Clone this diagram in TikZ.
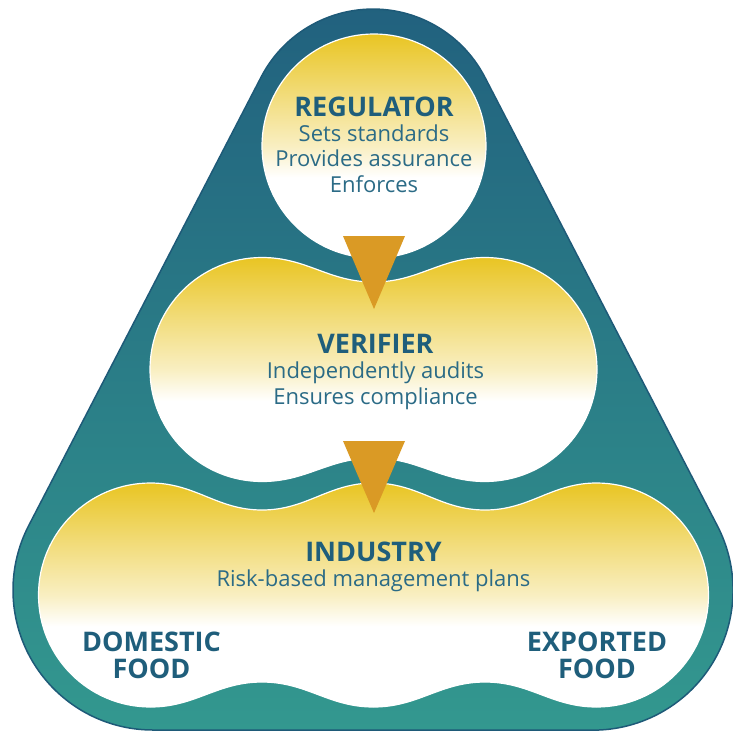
\documentclass[tikz,border=0pt]{standalone}
\usepackage{fontspec}
\setmainfont{Open Sans}

\definecolor{shellTop}{HTML}{21607E}
\definecolor{shellBottom}{HTML}{33988F}
\definecolor{shellEdge}{HTML}{1E5A78}
\definecolor{goldY}{HTML}{E9C523}
\definecolor{pointerGold}{HTML}{DA9A25}
\definecolor{titleBlue}{HTML}{1F5E7B}
\definecolor{bodyBlue}{HTML}{2B6B86}

% yellow at the top fading to white over the lower part
\pgfdeclareverticalshading{blobfill}{100bp}{%
  color(0bp)=(white); color(43bp)=(white); color(50bp)=(goldY!28!white);
  color(62bp)=(goldY!62!white); color(75bp)=(goldY); color(100bp)=(goldY)}

\tikzset{
  shell/.style={top color=shellTop, bottom color=shellBottom, draw=shellEdge, line width=1.5pt},
  blob/.style={shading=blobfill, draw=white, line width=1.2pt},
  pointer/.style={fill=pointerGold, draw=none},
  heading/.style={anchor=base, inner sep=0pt, text=titleBlue,
    font=\fontsize{27}{30}\selectfont\bfseries},
  bodyline/.style={anchor=base, inner sep=0pt, text=bodyBlue,
    font=\fontsize{22}{26}\selectfont},
}

\begin{document}
\begin{tikzpicture}[x=1pt,y=-1pt]
\useasboundingbox (0,0) rectangle (733,731);

% rounded triangular shell
\path[shell] (261.2,76.9) arc[start angle=207.5,end angle=332.5,radius=126]
  -- (717.2,525.5) arc[start angle=-27.5,end angle=90,radius=140]
  -- (153,730) arc[start angle=90,end angle=207.5,radius=140] -- cycle;

% regulator disc
\path[blob] (374,146) circle[radius=112];

% verifier: two lobes joined by a waist
\path[blob] (150,369.5) arc[start angle=180,end angle=270,radius=112]
  .. controls (307,257.5) and (328.5,282) .. (373.5,282)
  .. controls (418.5,282) and (440,257.5) .. (485,257.5)
  arc[start angle=270,end angle=450,radius=112]
  .. controls (440,481.5) and (418.5,458) .. (373.5,458)
  .. controls (328.5,458) and (307,481.5) .. (262,481.5)
  arc[start angle=90,end angle=180,radius=112] -- cycle;

% industry: three lobes in a row
\path[blob] (38.5,595) arc[start angle=180,end angle=270,radius=112]
  .. controls (195.5,483) and (217,510) .. (262,510)
  .. controls (307,510) and (328.5,483) .. (373.5,483)
  .. controls (418.5,483) and (440,510) .. (485,510)
  .. controls (530,510) and (551.5,483) .. (596.5,483)
  arc[start angle=270,end angle=450,radius=112]
  .. controls (551.5,707) and (530,682) .. (485,682)
  .. controls (440,682) and (418.5,707) .. (373.5,707)
  .. controls (328.5,707) and (307,682) .. (262,682)
  .. controls (217,682) and (195.5,707) .. (150.5,707)
  arc[start angle=90,end angle=180,radius=112] -- cycle;

% downward pointers
\coordinate (p1l) at (343,236); \coordinate (p1r) at (405,236); \coordinate (p1t) at (374,309);
\coordinate (p2l) at (343,441); \coordinate (p2r) at (405,441); \coordinate (p2t) at (374,513);
\path[pointer] (p1l) -- (p1r) -- (p1t) -- cycle;
\path[pointer] (p2l) -- (p2r) -- (p2t) -- cycle;

% labels
\node[heading]  (reg)  at (374,116) {REGULATOR};
\node[bodyline] (reg1) at (374,141) {Sets standards};
\node[bodyline] (reg2) at (374,166.5) {Provides assurance};
\node[bodyline] (reg3) at (374,192) {Enforces};

\node[heading]  (ver)  at (375.5,353) {VERIFIER};
\node[bodyline] (ver1) at (375.5,378.5) {Independently audits};
\node[bodyline] (ver2) at (375.5,404) {Ensures compliance};

\node[heading]  (ind)  at (373.5,561) {INDUSTRY};
\node[bodyline] (ind1) at (373.5,586) {Risk-based management plans};

\node[heading] (dom)  at (151.5,651) {DOMESTIC};
\node[heading] (domf) at (151.5,678.5) {FOOD};
\node[heading] (exp)  at (597,651) {EXPORTED};
\node[heading] (expf) at (597,678.5) {FOOD};
\end{tikzpicture}
\end{document}
